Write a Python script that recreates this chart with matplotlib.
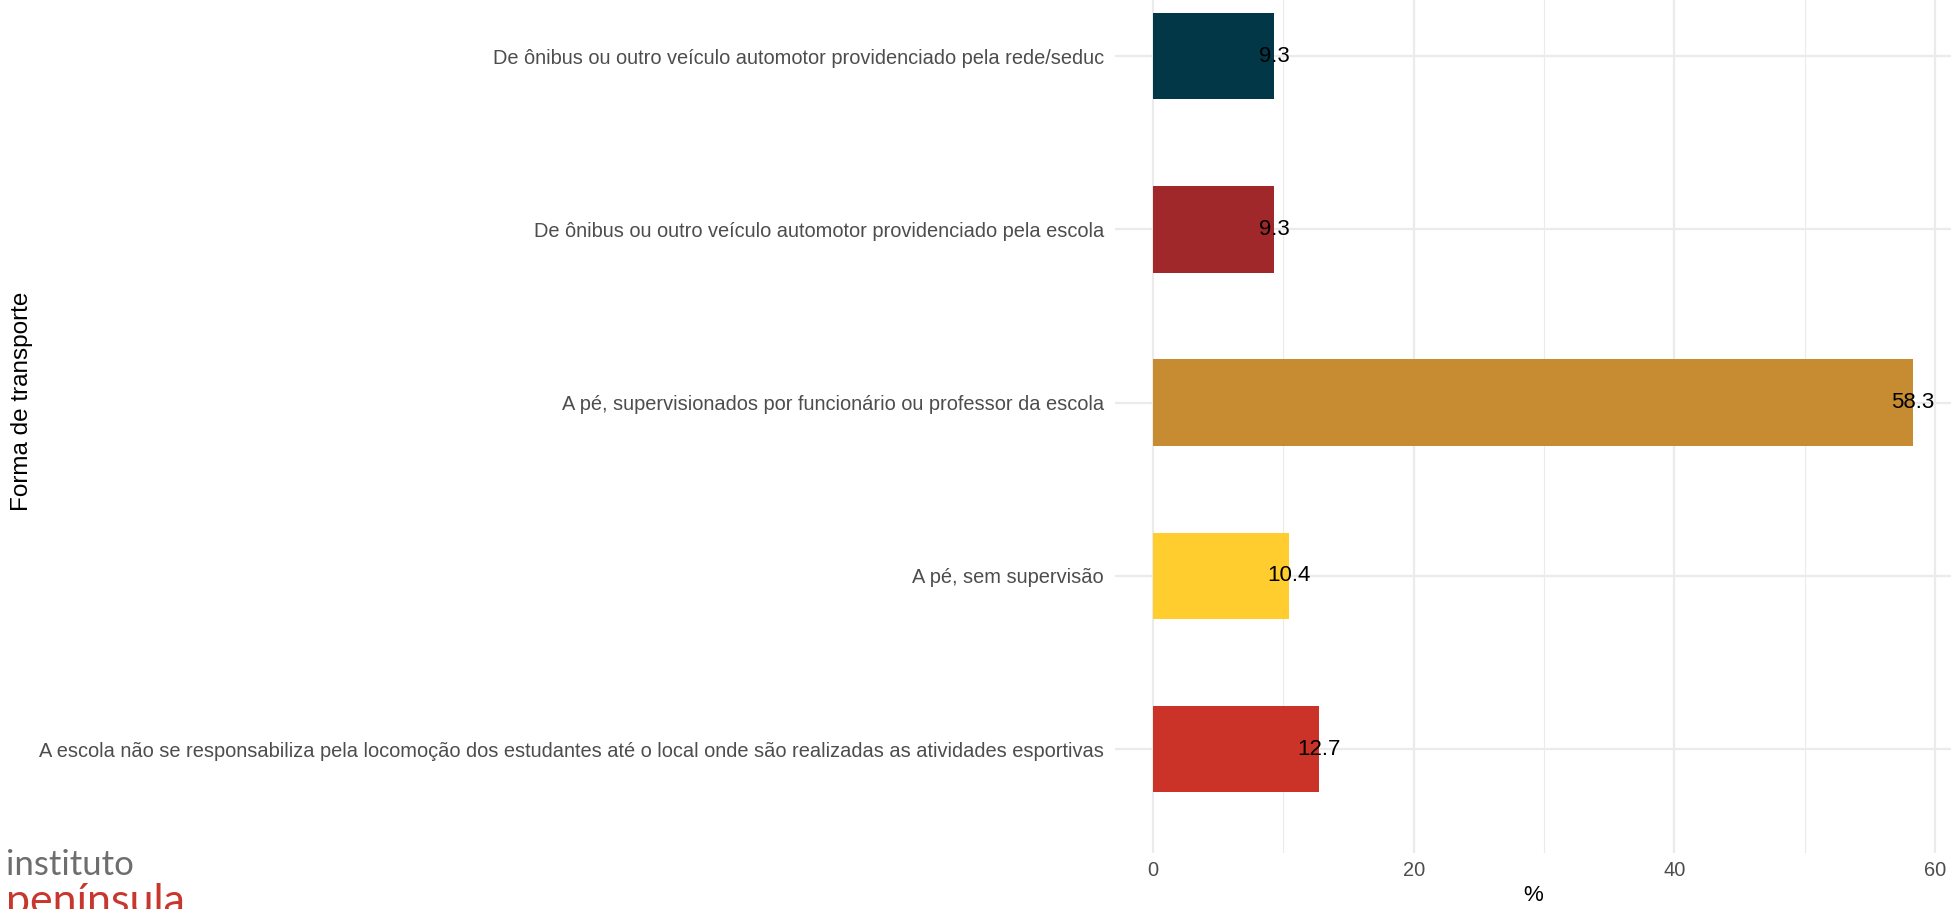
import matplotlib.pyplot as plt
import numpy as np

categorias = [
    "A escola não se responsabiliza pela locomoção dos estudantes até o local onde são realizadas as atividades esportivas",
    "A pé, sem supervisão",
    "A pé, supervisionados por funcionário ou professor da escola",
    "De ônibus ou outro veículo automotor providenciado pela escola",
    "De ônibus ou outro veículo automotor providenciado pela rede/seduc",
]
valores = [12.7, 10.4, 58.3, 9.3, 9.3]
cores = ["#CB3228", "#FFCE2E", "#C78C32", "#A0282A", "#023747"]
xticks = [0, 20, 40, 60]

plt.rcParams["font.family"] = ["Liberation Sans", "DejaVu Sans"]

fig = plt.figure(figsize=(19.51, 9.09), dpi=100)
ax = fig.add_axes([0.5715, 0.0616, 0.4285, 0.991])

y = np.arange(len(categorias))
ax.barh(y, valores, height=0.5, color=cores, zorder=2)
for yi, v in zip(y, valores):
    ax.text(v, yi, f"{v:.1f}", ha="center", va="center", fontsize=16, color="black", zorder=3)

ax.set_ylim(-0.6, len(categorias) - 0.4)
ax.set_xlim(-0.05 * max(valores), max(valores) * 1.05)
ax.set_yticks(y)
ax.set_yticklabels(categorias)
ax.set_xticks(xticks)
ax.set_xticks([10, 30, 50], minor=True)

ax.grid(True, which="major", color="#EBEBEB", linewidth=1.6, zorder=0)
ax.grid(True, which="minor", axis="x", color="#EBEBEB", linewidth=0.8, zorder=0)
ax.set_axisbelow(True)
for s in ax.spines.values():
    s.set_visible(False)
ax.tick_params(axis="both", which="both", length=0, labelsize=14.4, labelcolor="#4D4D4D")
ax.tick_params(axis="y", pad=8)
ax.tick_params(axis="x", pad=6)

ax.set_xlabel("%", fontsize=16, labelpad=3)
fig.text(0.0113, 0.558, "Forma de transporte", rotation=90, ha="center", va="center", fontsize=17.5)

# logo
fig.text(0.003, 0.0374, "instituto", fontsize=25, color="#6E6E6E", family="Lato",
         va="baseline")
fig.text(0.003, -0.006, "península", fontsize=31, color="#C8372D", family="Lato",
         va="baseline")

fig.savefig("out.png", dpi=100)
